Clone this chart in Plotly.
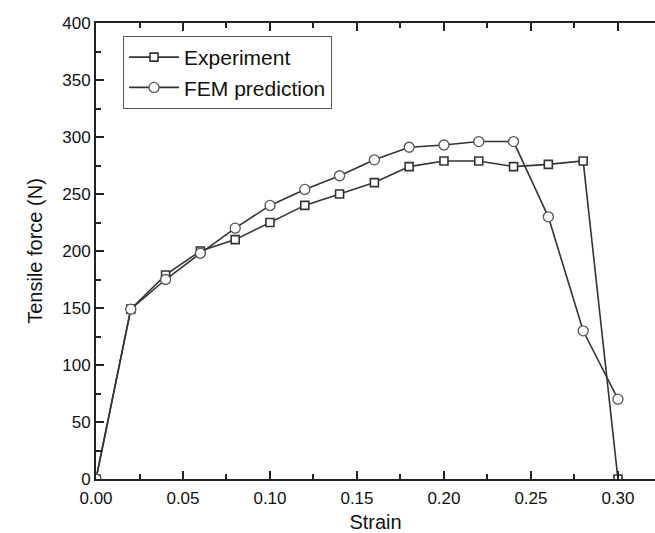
import plotly.graph_objects as go

strain = [0.00, 0.02, 0.04, 0.06, 0.08, 0.10, 0.12, 0.14, 0.16, 0.18, 0.20, 0.22, 0.24, 0.26, 0.28, 0.30]
experiment = [0, 149, 179, 200, 210, 225, 240, 250, 260, 274, 279, 279, 274, 276, 279, 0]
fem = [0, 149, 175, 198, 220, 240, 254, 266, 280, 291, 293, 296, 296, 230, 130, 70]

x_ticks = [0.00, 0.05, 0.10, 0.15, 0.20, 0.25, 0.30]
x_tick_labels = ["0.00", "0.05", "0.10", "0.15", "0.20", "0.25", "0.30"]
y_ticks = [0, 50, 100, 150, 200, 250, 300, 350, 400]

line_col = "#333333"
font_fam = "Arial, Liberation Sans, sans-serif"

fig = go.Figure()
fig.add_trace(go.Scatter(
    x=strain, y=experiment, mode="lines+markers", name="Experiment",
    line=dict(color=line_col, width=1.6),
    marker=dict(symbol="square", size=8, color="white", line=dict(color=line_col, width=1.6)),
))
fig.add_trace(go.Scatter(
    x=strain, y=fem, mode="lines+markers", name="FEM prediction",
    line=dict(color=line_col, width=1.6),
    marker=dict(symbol="circle", size=10, color="white", line=dict(color="#555555", width=1.3)),
))

fig.update_layout(
    width=655, height=533,
    margin=dict(l=96, r=0, t=23, b=54, autoexpand=False),
    paper_bgcolor="white", plot_bgcolor="white",
    font=dict(family=font_fam, color="#111111", size=17),
    showlegend=True,
    legend=dict(
        x=0.048, y=0.972, xanchor="left", yanchor="top",
        bordercolor="#555555", borderwidth=1.2, bgcolor="white",
        font=dict(size=21, family=font_fam, color="#111111"),
        tracegroupgap=0, itemwidth=50,
    ),
    xaxis=dict(
        range=[0, 0.3213], tickvals=x_ticks, ticktext=x_tick_labels,
        showgrid=False, zeroline=False, automargin=False,
        showline=True, linecolor="#222222", linewidth=2, mirror="ticks",
        ticks="inside", ticklen=8, tickwidth=2, tickcolor="#222222",
        minor=dict(dtick=0.025, tick0=0, ticks="inside", ticklen=5, tickwidth=1.5, tickcolor="#222222"),
        title=dict(text="Strain", font=dict(size=20), standoff=12),
        tickfont=dict(size=17), ticklabelstandoff=3,
    ),
    yaxis=dict(
        range=[0, 400], tickvals=y_ticks,
        showgrid=False, zeroline=False, automargin=False,
        showline=True, linecolor="#222222", linewidth=2,
        ticks="inside", ticklen=8, tickwidth=2, tickcolor="#222222",
        minor=dict(dtick=25, tick0=0, ticks="inside", ticklen=5, tickwidth=1.5, tickcolor="#222222"),
        title=dict(text="Tensile force (N)", font=dict(size=20), standoff=14),
        tickfont=dict(size=17),
    ),
)

fig.write_html("out.html", config={"displayModeBar": False},
               post_script="document.body.style.margin='0';")
